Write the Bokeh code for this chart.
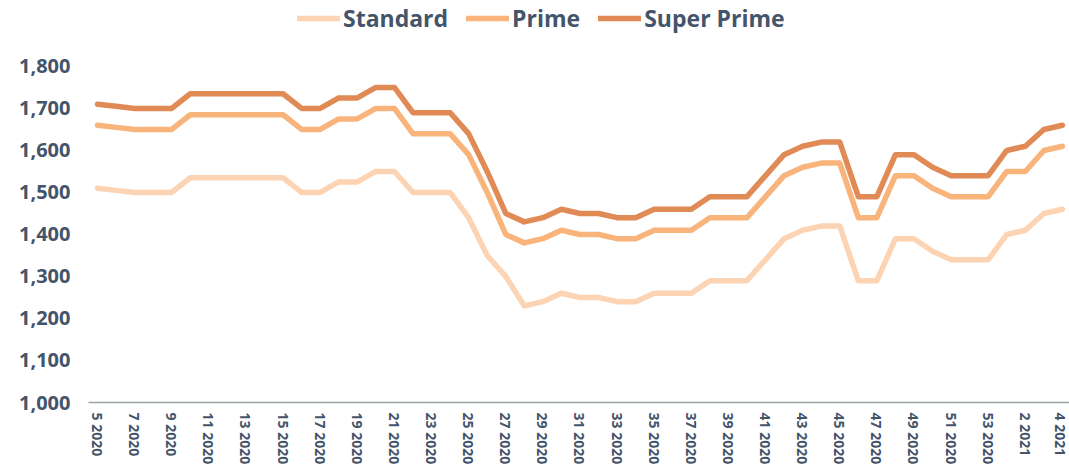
from bokeh.plotting import figure
from bokeh.models import Range1d, FixedTicker, Legend, LegendItem
from bokeh.embed import file_html
from bokeh.resources import INLINE

weeks = ["5 2020", "6 2020", "7 2020", "8 2020", "9 2020", "10 2020", "11 2020",
         "12 2020", "13 2020", "14 2020", "15 2020", "16 2020", "17 2020", "18 2020",
         "19 2020", "20 2020", "21 2020", "22 2020", "23 2020", "24 2020", "25 2020",
         "26 2020", "27 2020", "28 2020", "29 2020", "30 2020", "31 2020", "32 2020",
         "33 2020", "34 2020", "35 2020", "36 2020", "37 2020", "38 2020", "39 2020",
         "40 2020", "41 2020", "42 2020", "43 2020", "44 2020", "45 2020", "46 2020",
         "47 2020", "48 2020", "49 2020", "50 2020", "51 2020", "52 2020", "53 2020",
         "1 2021", "2 2021", "3 2021", "4 2021"]

standard = [1510, 1505, 1500, 1500, 1500, 1535, 1535, 1535, 1535, 1535, 1535, 1500, 1500,
            1525, 1525, 1550, 1550, 1500, 1500, 1500, 1440, 1350, 1300, 1230, 1240, 1260,
            1250, 1250, 1240, 1240, 1260, 1260, 1260, 1290, 1290, 1290, 1340, 1390, 1410,
            1420, 1420, 1290, 1290, 1390, 1390, 1360, 1340, 1340, 1340, 1400, 1410, 1450, 1460]

prime = [1660, 1655, 1650, 1650, 1650, 1685, 1685, 1685, 1685, 1685, 1685, 1650, 1650,
         1675, 1675, 1700, 1700, 1640, 1640, 1640, 1590, 1500, 1400, 1380, 1390, 1410,
         1400, 1400, 1390, 1390, 1410, 1410, 1410, 1440, 1440, 1440, 1490, 1540, 1560,
         1570, 1570, 1440, 1440, 1540, 1540, 1510, 1490, 1490, 1490, 1550, 1550, 1600, 1610]

super_prime = [1710, 1705, 1700, 1700, 1700, 1735, 1735, 1735, 1735, 1735, 1735, 1700, 1700,
               1725, 1725, 1750, 1750, 1690, 1690, 1690, 1640, 1550, 1450, 1430, 1440, 1460,
               1450, 1450, 1440, 1440, 1460, 1460, 1460, 1490, 1490, 1490, 1540, 1590, 1610,
               1620, 1620, 1490, 1490, 1590, 1590, 1560, 1540, 1540, 1540, 1600, 1610, 1650, 1660]

y_ticks = [1000, 1100, 1200, 1300, 1400, 1500, 1600, 1700, 1800]

series_names = ["Standard", "Prime", "Super Prime"]
colors = ["#FDD4B3", "#F9B47B", "#E08A56"]
TEXT = "#44546A"
FONT = "Open Sans"

xs = list(range(len(weeks)))

p = figure(width=1069, height=467, output_backend="svg", toolbar_location=None,
           x_range=Range1d(-0.485, 52.38), y_range=Range1d(1000, 1957),
           min_border_left=88, min_border_right=0, min_border_top=0, min_border_bottom=65)
p.outline_line_color = None
p.xgrid.grid_line_color = None
p.ygrid.grid_line_color = None
p.background_fill_color = "white"
p.border_fill_color = "white"

renderers = []
for name, vals, col in zip(series_names, [standard, prime, super_prime], colors):
    r = p.line(xs, vals, line_color=col, line_width=5.5, line_cap="round", line_join="round")
    renderers.append(r)

# x axis
p.xaxis.ticker = FixedTicker(ticks=xs[::2])
p.xaxis.major_label_overrides = {i: weeks[i] for i in xs[::2]}
p.xaxis.major_label_orientation = "vertical"
p.xaxis.major_label_text_font = FONT
p.xaxis.major_label_text_font_style = "bold"
p.xaxis.major_label_text_font_size = "14px"
p.xaxis.major_label_text_color = TEXT
p.xaxis.major_label_standoff = 10
p.xaxis.major_tick_line_color = None
p.xaxis.minor_tick_line_color = None
p.xaxis.major_tick_out = 0
p.xaxis.minor_tick_out = 0
p.xaxis.axis_line_color = "#9AA3A8"
p.xaxis.axis_line_width = 1.5

# y axis
p.yaxis.ticker = FixedTicker(ticks=y_ticks)
p.yaxis.major_label_overrides = {v: f"{v:,}" for v in y_ticks}
p.yaxis.major_label_text_font = FONT
p.yaxis.major_label_text_font_style = "bold"
p.yaxis.major_label_text_font_size = "20px"
p.yaxis.major_label_text_color = TEXT
p.yaxis.major_label_standoff = 18
p.yaxis.major_tick_line_color = None
p.yaxis.minor_tick_line_color = None
p.yaxis.major_tick_out = 0
p.yaxis.minor_tick_out = 0
p.yaxis.axis_line_color = None

legend = Legend(items=[LegendItem(label=n, renderers=[r]) for n, r in zip(series_names, renderers)],
                orientation="horizontal", location=(209, 368),
                padding=0, margin=0, spacing=18, label_standoff=3,
                glyph_width=43, glyph_height=24, label_height=24,
                label_text_font=FONT, label_text_font_style="bold",
                label_text_font_size="23px", label_text_color=TEXT,
                border_line_color=None, background_fill_alpha=0)
p.add_layout(legend, "center")

open("out.html", "w").write(file_html(p, INLINE))
